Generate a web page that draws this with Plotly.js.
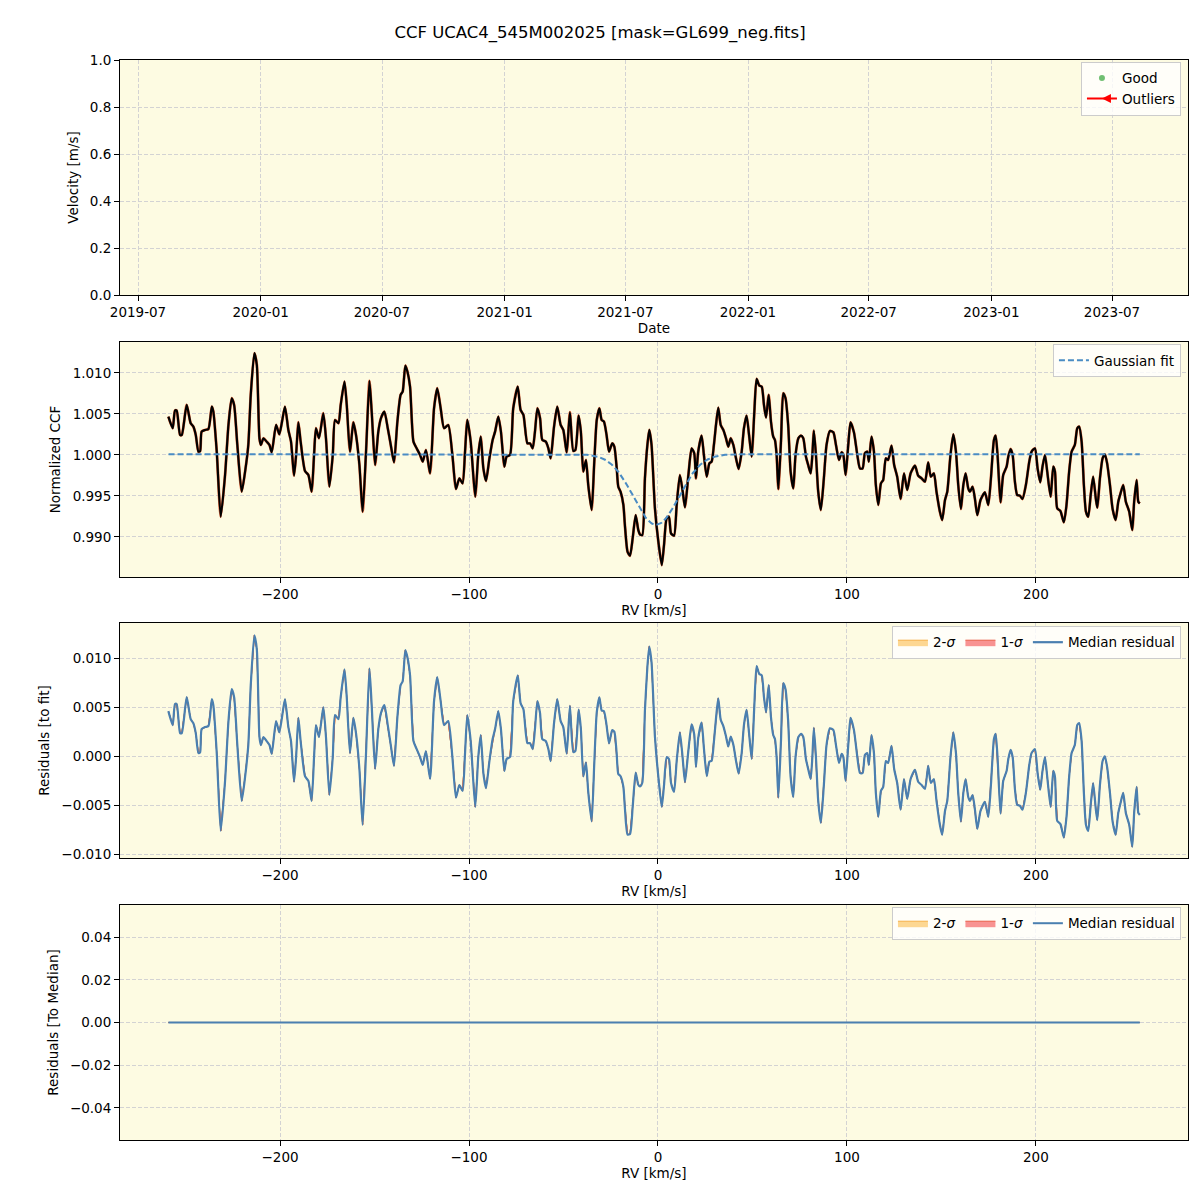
<!DOCTYPE html>
<html>
<head>
<meta charset="utf-8">
<script src="https://cdn.plot.ly/plotly-3.0.1.min.js"></script>
<style>
  body { margin: 0; background: #fff; }
  #chart { width: 1200px; height: 1200px; }
</style>
</head>
<body>
<div id="chart"></div>
<script>
// RV grid [km/s] and normalized CCF
const rv = [
  -259.1, -256.8, -255.6, -254.7, -252.9, -252.0, -249.4, -247.3, -245.9, -244.6,
  -243.2, -242.3, -241.5, -239.7, -237.9, -236.1, -235.3, -233.5, -231.4, -229.1,
  -227.3, -225.6, -224.3, -222.6, -220.3, -218.5, -216.8, -215.5, -213.6, -212.3,
  -210.9, -210.1, -208.8, -207.1, -205.6, -204.4, -202.1, -200.4, -199.1, -197.4,
  -195.6, -194.2, -192.6, -191.5, -190.3, -189.1, -186.8, -185.0, -183.3, -182.0,
  -181.0, -179.4, -177.1, -175.7, -173.9, -172.1, -170.9, -169.1, -167.9, -165.9,
  -164.7, -163.0, -161.2, -159.8, -158.0, -156.3, -154.5, -152.7, -151.5, -149.7,
  -148.0, -146.6, -144.8, -143.0, -141.4, -139.7, -137.9, -136.2, -135.1, -133.7,
  -132.6, -131.2, -129.4, -127.7, -125.9, -124.5, -122.8, -120.6, -118.5, -116.8,
  -115.0, -113.2, -111.0, -108.8, -106.9, -105.1, -103.4, -102.1, -100.9, -99.1,
  -96.7, -95.1, -93.8, -92.4, -91.0, -89.2, -87.5, -86.2, -84.5, -83.1,
  -81.3, -80.1, -78.3, -76.6, -74.2, -72.7, -71.2, -69.1, -67.7, -66.3,
  -65.1, -63.8, -62.4, -61.2, -59.4, -58.0, -56.8, -55.0, -53.3, -51.5,
  -50.1, -48.3, -46.6, -44.8, -43.7, -42.0, -40.8, -39.5, -38.1, -36.9,
  -35.1, -33.7, -32.4, -31.0, -29.8, -28.6, -27.2, -25.9, -24.2, -23.1,
  -21.9, -21.0, -19.8, -18.3, -17.5, -16.1, -14.8, -13.4, -11.8, -10.4,
  -9.5, -8.3, -6.9, -5.6, -4.6, -3.4, -1.6, 0.2, 2.0, 3.2,
  4.6, 5.8, 6.9, 8.5, 9.9, 11.6, 13.1, 14.3, 16.1, 17.8,
  19.2, 20.1, 21.3, 23.1, 24.3, 25.8, 27.2, 28.4, 29.6, 30.7,
  31.9, 33.2, 34.6, 36.0, 37.2, 38.5, 39.9, 41.3, 42.7, 44.3,
  45.5, 46.9, 48.2, 49.6, 51.0, 52.2, 53.6, 54.9, 56.1, 57.2,
  58.6, 59.8, 61.0, 61.9, 62.8, 63.7, 65.1, 66.3, 67.5, 68.9,
  70.2, 71.6, 72.8, 74.3, 75.7, 76.9, 78.3, 79.5, 80.8, 81.7,
  82.5, 83.6, 84.8, 86.2, 87.8, 89.2, 91.0, 92.8, 94.2, 95.8,
  97.2, 98.1, 99.3, 100.7, 101.9, 103.7, 105.5, 106.9, 108.3, 109.5,
  110.7, 111.6, 113.0, 114.3, 115.3, 116.6, 118.0, 119.2, 120.6, 121.8,
  123.6, 125.0, 126.6, 128.4, 130.2, 131.9, 133.7, 136.0, 137.7, 139.5,
  141.3, 143.0, 144.4, 146.0, 147.4, 149.2, 150.4, 151.9, 153.1, 154.8,
  156.3, 157.7, 158.9, 160.3, 161.6, 162.8, 164.2, 165.1, 166.5, 167.7,
  169.0, 170.7, 173.0, 174.8, 176.2, 177.8, 178.7, 179.7, 181.3, 182.7,
  184.5, 185.4, 186.6, 187.7, 188.9, 190.1, 191.5, 192.9, 194.7, 196.5,
  197.7, 199.5, 200.9, 202.3, 203.5, 204.8, 206.0, 207.8, 209.2, 210.1,
  211.3, 213.0, 214.8, 216.2, 217.6, 218.9, 220.6, 221.9, 222.9, 224.2,
  225.4, 226.5, 227.7, 229.0, 230.3, 231.7, 232.5, 233.9, 235.3, 236.5,
  237.7, 239.2, 240.6, 242.2, 243.6, 244.8, 246.2, 247.6, 249.4, 251.0,
  252.0, 253.3, 254.2, 255.0
];
const ccf = [
  1.00468, 1.00326, 1.00541, 1.00541, 1.00244, 1.00244, 1.00610, 1.00387, 1.00346, 1.00244,
  1.00040, 1.00048, 1.00285, 1.00305, 1.00317, 1.00590, 1.00529, 1.00040, 0.99247, 0.99756,
  1.00366, 1.00692, 1.00610, 1.00122, 0.99552, 0.99797, 1.00122, 1.00733, 1.01241, 1.01100,
  1.00204, 1.00122, 1.00204, 1.00163, 1.00122, 1.00033, 1.00366, 1.00252, 1.00387, 1.00590,
  1.00305, 1.00163, 0.99748, 1.00000, 1.00399, 1.00163, 0.99805, 0.99756, 0.99552, 1.00000,
  1.00326, 1.00204, 1.00509, 1.00204, 0.99613, 1.00000, 1.00427, 1.00387, 1.00610, 1.00895,
  1.00610, 1.00040, 1.00399, 1.00244, 0.99878, 0.99308, 1.00040, 1.00904, 1.00529, 0.99878,
  1.00285, 1.00448, 1.00529, 1.00326, 1.00122, 0.99910, 1.00407, 1.00733, 1.00773, 1.01091,
  1.01018, 1.00834, 1.00163, 1.00081, 1.00000, 0.99919, 1.00061, 0.99776, 1.00570, 1.00814,
  1.00570, 1.00326, 1.00366, 1.00000, 0.99585, 0.99715, 0.99654, 1.00040, 1.00427, 1.00163,
  0.99491, 1.00000, 1.00224, 0.99837, 0.99683, 0.99959, 1.00183, 1.00285, 1.00468, 1.00285,
  0.99858, 0.99980, 1.00000, 1.00570, 1.00834, 1.00549, 1.00488, 1.00142, 1.00142, 1.00081,
  1.00285, 1.00570, 1.00448, 1.00183, 1.00163, 1.00081, 0.99959, 1.00346, 1.00590, 1.00366,
  1.00305, 1.00033, 1.00521, 1.00049, 1.00061, 1.00480, 1.00285, 0.99797, 0.99939, 0.99634,
  0.99328, 0.99919, 1.00427, 1.00570, 1.00427, 1.00407, 1.00244, 1.00040, 1.00142, 1.00102,
  0.99858, 0.99613, 0.99552, 0.99390, 0.99145, 0.98820, 0.98771, 0.98982, 0.99267, 0.99084,
  0.99031, 0.99023, 0.99715, 1.00122, 1.00305, 1.00122, 0.99349, 0.98942, 0.98657, 0.98901,
  0.99227, 0.99247, 0.99044, 0.99015, 0.99390, 0.99756, 0.99552, 0.99361, 0.99756, 1.00081,
  1.00020, 0.99715, 1.00040, 1.00236, 1.00000, 0.99735, 0.99898, 0.99919, 1.00122, 1.00366,
  1.00578, 1.00366, 1.00305, 1.00204, 1.00102, 1.00204, 1.00122, 0.99959, 0.99829, 1.00040,
  1.00326, 1.00480, 1.00244, 0.99980, 1.00529, 1.00928, 1.00847, 1.00834, 1.00610, 1.00456,
  1.00733, 1.00407, 1.00224, 1.00183, 1.00000, 0.99585, 1.00163, 1.00753, 1.00692, 1.00366,
  0.99797, 0.99593, 1.00000, 1.00204, 1.00236, 1.00204, 0.99980, 0.99878, 0.99776, 1.00000,
  1.00297, 1.00000, 0.99552, 0.99328, 0.99715, 1.00122, 1.00293, 1.00277, 1.00122, 0.99939,
  1.00033, 1.00000, 0.99756, 1.00122, 1.00399, 1.00277, 1.00000, 0.99837, 0.99837, 1.00020,
  1.00041, 0.99919, 1.00224, 1.00040, 0.99634, 0.99390, 0.99654, 0.99695, 0.99959, 0.99939,
  1.00114, 0.99878, 0.99735, 0.99463, 0.99776, 0.99573, 0.99776, 0.99870, 0.99748, 0.99715,
  0.99674, 0.99910, 0.99735, 0.99776, 0.99552, 0.99308, 0.99206, 0.99450, 0.99552, 1.00000,
  1.00252, 1.00040, 0.99634, 0.99341, 0.99634, 0.99776, 0.99593, 0.99552, 0.99613, 0.99471,
  0.99267, 0.99451, 0.99544, 0.99390, 0.99715, 1.00183, 1.00236, 1.00000, 0.99422, 0.99756,
  0.99858, 0.99980, 1.00073, 1.00000, 0.99674, 0.99512, 0.99504, 0.99463, 0.99634, 0.99919,
  1.00040, 1.00081, 0.99837, 0.99666, 0.99858, 1.00000, 0.99797, 0.99491, 0.99858, 0.99797,
  0.99349, 0.99316, 0.99178, 0.99390, 0.99797, 1.00040, 1.00122, 1.00326, 1.00346, 1.00163,
  0.99634, 0.99308, 0.99247, 0.99512, 0.99735, 0.99471, 0.99357, 0.99715, 0.99959, 1.00008,
  0.99898, 0.99634, 0.99341, 0.99206, 0.99430, 0.99532, 0.99634, 0.99430, 0.99308, 0.99084,
  0.99430, 0.99695, 0.99430, 0.99410
];

// gaussian fit parameters
const fitBase = 1.0001;
const fitDepth = 0.0086;
const fitCenter = -1.0;
const fitSigma = 12.0;

// time series panel is empty
const goodDates = [];
const goodVel = [];
const outlierDates = [];
const outlierVel = [];

function gauss(x) {
  return fitBase - fitDepth * Math.exp(-((x - fitCenter) ** 2) / (2 * fitSigma ** 2));
}

const fitX = [];
for (let v = Math.ceil(rv[0]); v <= Math.floor(rv[rv.length - 1]); v += 0.5) fitX.push(v);
const fitY = fitX.map(gauss);

const resid = rv.map((x, i) => ccf[i] - gauss(x));
const toMedian = resid.map(r => r - r); // single epoch: residual minus median is zero

const bg = '#fdfbe2';
const font = 'DejaVu Sans, Liberation Sans, sans-serif';

function band(x, y, name, fill, edge, xa, ya, leg, show) {
  return {
    x: x.concat(x.slice().reverse()),
    y: y.concat(y.slice().reverse()),
    fill: 'toself', fillcolor: fill,
    line: { color: edge, width: 1 },
    mode: 'lines', name: name, showlegend: show,
    xaxis: xa, yaxis: ya, legend: leg, hoverinfo: 'skip'
  };
}

const traces = [
  { x: goodDates.length ? goodDates : [null], y: goodVel.length ? goodVel : [null],
    mode: 'markers', name: 'Good', marker: { color: 'rgba(76,175,80,0.8)', size: 6 },
    xaxis: 'x', yaxis: 'y', legend: 'legend' },
  { x: outlierDates.length ? outlierDates : [null], y: outlierVel.length ? outlierVel : [null],
    mode: 'lines+markers', name: 'Outliers',
    line: { color: 'red', width: 2 }, marker: { color: 'red', symbol: 'arrow-left', size: 9 },
    xaxis: 'x', yaxis: 'y', legend: 'legend' },

  { x: rv, y: ccf, mode: 'lines', line: { color: '#e0643a', width: 2.8, shape: 'spline', smoothing: 0.6 },
    showlegend: false, xaxis: 'x2', yaxis: 'y2' },
  { x: rv, y: ccf, mode: 'lines', line: { color: 'black', width: 2.2, shape: 'spline', smoothing: 0.6 },
    showlegend: false, xaxis: 'x2', yaxis: 'y2' },
  { x: fitX, y: fitY, mode: 'lines', name: 'Gaussian fit',
    line: { color: '#4a8cc4', width: 2, dash: '6px,3px' },
    xaxis: 'x2', yaxis: 'y2', legend: 'legend2' },

  band(rv, resid, '2-<i>σ</i>', 'rgba(253,205,120,0.8)', '#f5b04a', 'x3', 'y3', 'legend3', true),
  band(rv, resid, '1-<i>σ</i>', 'rgba(246,120,120,0.8)', '#e8604a', 'x3', 'y3', 'legend3', true),
  { x: rv, y: resid, mode: 'lines', name: 'Median residual',
    line: { color: '#4a7fb0', width: 2.2, shape: 'spline', smoothing: 0.6 },
    xaxis: 'x3', yaxis: 'y3', legend: 'legend3' },

  band(rv, toMedian, '2-<i>σ</i>', 'rgba(253,205,120,0.8)', '#f5b04a', 'x4', 'y4', 'legend4', true),
  band(rv, toMedian, '1-<i>σ</i>', 'rgba(246,120,120,0.8)', '#e8604a', 'x4', 'y4', 'legend4', true),
  { x: rv, y: toMedian, mode: 'lines', name: 'Median residual',
    line: { color: '#4a7fb0', width: 2 },
    xaxis: 'x4', yaxis: 'y4', legend: 'legend4' }
];

function axis(extra) {
  return Object.assign({
    showline: true, linecolor: 'black', linewidth: 1, mirror: true,
    ticks: 'outside', ticklen: 5, tickcolor: 'black',
    showgrid: true, gridcolor: '#d3d3d3', griddash: '4px,2px', gridwidth: 1,
    zeroline: false, tickfont: { size: 13.5, color: 'black' }
  }, extra);
}

function legendBox(x, y, horiz) {
  return {
    x: x, y: y, xanchor: 'right', yanchor: 'top',
    orientation: horiz ? 'h' : 'v',
    bgcolor: 'rgba(255,255,255,0.8)', bordercolor: '#cccccc', borderwidth: 1,
    font: { size: 13.5, color: 'black' }
  };
}

const rvRange = [-284.7, 280.5];
const xTitle = (t) => ({ text: t, font: { size: 13.5 }, standoff: 4 });
const yTitle = (t) => ({ text: t, font: { size: 13.5 }, standoff: 8 });

const layout = {
  width: 1200, height: 1200,
  margin: { l: 120, r: 12, t: 60, b: 60 },
  paper_bgcolor: 'white', plot_bgcolor: bg,
  font: { family: font, color: 'black', size: 13.5 },
  title: { text: 'CCF UCAC4_545M002025 [mask=GL699_neg.fits]', font: { size: 16.5 },
           x: 0.5, xref: 'container', xanchor: 'center', y: 0.973, yref: 'container', yanchor: 'middle' },

  xaxis: axis({ domain: [0, 1], anchor: 'y', type: 'date',
    range: ['2019-06-04', '2023-10-23'], tick0: '2019-07-01', dtick: 'M6', tickformat: '%Y-%m',
    title: xTitle('Date') }),
  yaxis: axis({ domain: [0.7824, 1], anchor: 'x', range: [0, 1], dtick: 0.2, tickformat: '.1f',
    title: yTitle('Velocity [m/s]') }),

  xaxis2: axis({ domain: [0, 1], anchor: 'y2', range: rvRange, dtick: 100, title: xTitle('RV [km/s]') }),
  yaxis2: axis({ domain: [0.5213, 0.7389], anchor: 'x2', range: [0.98512, 1.01378], dtick: 0.005,
    tickformat: '.3f', title: yTitle('Normalized CCF') }),

  xaxis3: axis({ domain: [0, 1], anchor: 'y3', range: rvRange, dtick: 100, title: xTitle('RV [km/s]') }),
  yaxis3: axis({ domain: [0.2611, 0.4787], anchor: 'x3', range: [-0.0104, 0.01357], dtick: 0.005,
    tickformat: '.3f', title: yTitle('Residuals [to fit]') }),

  xaxis4: axis({ domain: [0, 1], anchor: 'y4', range: rvRange, dtick: 100, title: xTitle('RV [km/s]') }),
  yaxis4: axis({ domain: [0, 0.2176], anchor: 'x4', range: [-0.055, 0.055], dtick: 0.02,
    tickformat: '.2f', title: yTitle('Residuals [To Median]') }),

  legend: legendBox(0.9934, 0.9985, false),
  legend2: legendBox(0.9934, 0.7370, false),
  legend3: legendBox(0.9934, 0.4760, true),
  legend4: legendBox(0.9934, 0.2158, true)
};

Plotly.newPlot('chart', traces, layout, { staticPlot: true });
</script>
</body>
</html>
